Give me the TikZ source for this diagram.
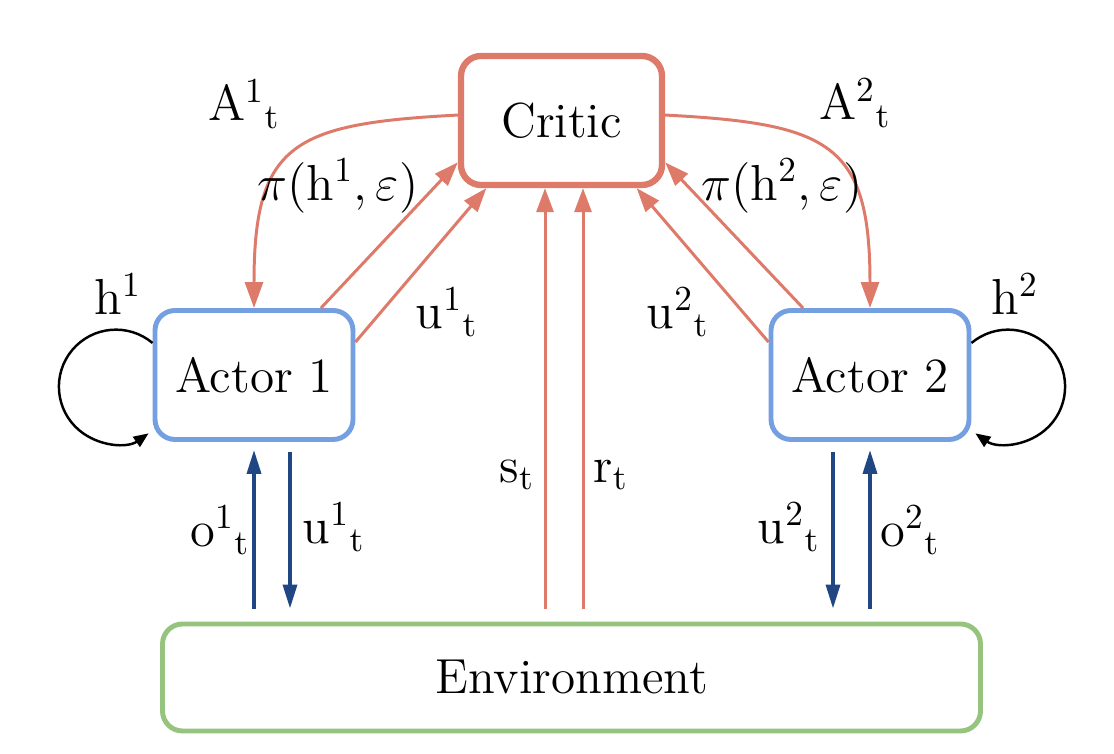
\documentclass[tikz,border=0pt]{standalone}
\usetikzlibrary{arrows.meta}

\definecolor{critred}{RGB}{222,122,106}
\definecolor{actblue}{RGB}{116,160,226}
\definecolor{envgreen}{RGB}{150,196,126}
\definecolor{obsblue}{RGB}{32,70,132}

\newcommand{\tlab}[2]{$\mathrm{#1}^{#2}{}_{\mathrm{t}}$}

\begin{document}
\begin{tikzpicture}[
  font=\fontsize{14}{17}\selectfont,
  box/.style={draw, rounded corners=0.2cm, fill=white},
  critarrow/.style={critred, line width=0.85pt, -{Triangle[length=0.24cm,width=0.17cm]}},
  advarrow/.style={critred, line width=0.85pt, -{Triangle[length=0.26cm,width=0.18cm]}},
  envarrow/.style={obsblue, line width=1pt, -{Triangle[length=0.24cm,width=0.14cm]}},
  memloop/.style={black, line width=0.7pt, -{Triangle[length=0.15cm,width=0.12cm]}}
]
\useasboundingbox (0,0) rectangle (11.14,7.54);

% Boxes
\node[box, draw=critred, line width=1.8pt, minimum width=2.01cm, minimum height=1.29cm] (critic) at (5.615,6.335) {Critic};
\node[box, draw=actblue, line width=1.4pt, minimum width=1.98cm, minimum height=1.29cm] (actor1) at (2.54,3.79) {Actor 1};
\node[box, draw=actblue, line width=1.4pt, minimum width=1.98cm, minimum height=1.29cm] (actor2) at (8.70,3.79) {Actor 2};
\node[box, draw=envgreen, line width=1.4pt, minimum width=8.18cm, minimum height=1.07cm] (env) at (5.715,0.765) {Environment};

% Advantage from critic to actors
\draw[advarrow] (critic.177) to[out=183,in=90,looseness=1.5] (actor1.north);
\draw[advarrow] (critic.3) to[out=-3,in=90,looseness=1.5] (actor2.north);
\node (a1) at (2.44,6.50) {\tlab{A}{1}};
\node (a2) at (8.55,6.51) {\tlab{A}{2}};

% Policies and actions to critic
\draw[critarrow] (actor1.45) -- (critic.202);
\draw[critarrow] (actor1.18) -- (critic.222);
\draw[critarrow] (actor2.135) -- (critic.338);
\draw[critarrow] (actor2.162) -- (critic.318);
\node (pi1) at (3.38,5.68) {$\pi(\mathrm{h}^{1},\varepsilon)$};
\node (pi2) at (7.82,5.68) {$\pi(\mathrm{h}^{2},\varepsilon)$};
\node (uc1) at (4.47,4.42) {\tlab{u}{1}};
\node (uc2) at (6.78,4.42) {\tlab{u}{2}};

% State and reward to critic
\draw[critarrow, shorten <=0.13cm] ([xshift=-0.165cm]critic.south |- env.north) -- ([xshift=-0.165cm]critic.south);
\draw[critarrow, shorten <=0.13cm] ([xshift=0.215cm]critic.south |- env.north) -- ([xshift=0.215cm]critic.south);
\node (st) at (5.17,2.79) {$\mathrm{s}_{\mathrm{t}}$};
\node (rt) at (6.11,2.79) {$\mathrm{r}_{\mathrm{t}}$};

% Hidden state loops
\draw[memloop] ([yshift=0.32cm]actor1.west) arc[start angle=50, end angle=305, radius=0.57cm];
\draw[memloop] ([yshift=0.32cm]actor2.east) arc[start angle=130, end angle=-125, radius=0.57cm];
\node (h1) at (1.18,4.60) {$\mathrm{h}^{1}$};
\node (h2) at (10.15,4.60) {$\mathrm{h}^{2}$};

% Observations and actions with the environment
\draw[envarrow, shorten <=0.13cm, shorten >=0.08cm] (actor1.south |- env.north) -- (actor1.south);
\draw[envarrow, shorten <=0.1cm, shorten >=0.13cm] ([xshift=0.36cm]actor1.south) -- ([xshift=0.36cm]actor1.south |- env.north);
\draw[envarrow, shorten <=0.1cm, shorten >=0.13cm] ([xshift=-0.37cm]actor2.south) -- ([xshift=-0.37cm]actor2.south |- env.north);
\draw[envarrow, shorten <=0.13cm, shorten >=0.08cm] (actor2.south |- env.north) -- (actor2.south);
\node (o1) at (2.20,2.24) {\tlab{o}{1}};
\node (ue1) at (3.34,2.27) {\tlab{u}{1}};
\node (ue2) at (7.89,2.27) {\tlab{u}{2}};
\node (o2) at (9.10,2.24) {\tlab{o}{2}};

\end{tikzpicture}
\end{document}
